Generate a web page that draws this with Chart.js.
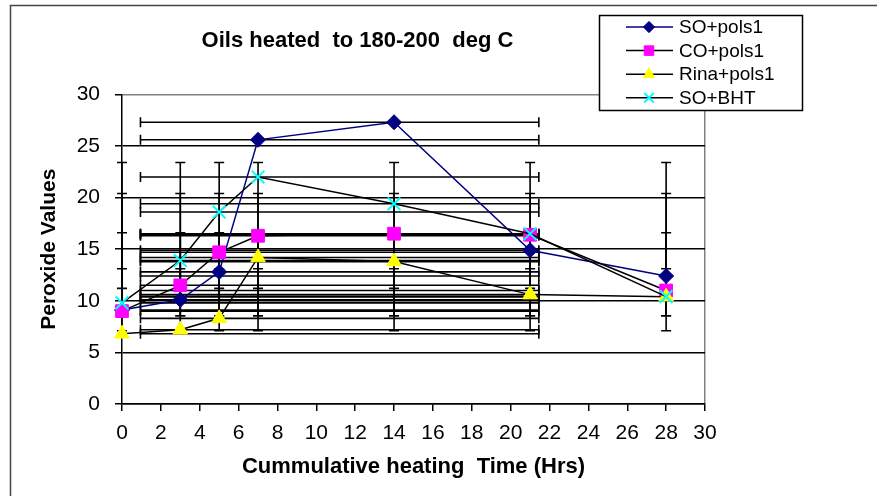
<!DOCTYPE html>
<html>
<head>
<meta charset="utf-8">
<script src="https://cdn.jsdelivr.net/npm/chart.js@4.4.1/dist/chart.umd.min.js"></script>
<style>
  html, body { margin: 0; padding: 0; background: #fff; }
  #wrap { position: relative; width: 877px; height: 496px; }
</style>
</head>
<body>
<div id="wrap"><canvas id="chart"></canvas></div>
<script>
// heating time (hrs) and peroxide values
const hours = [0, 3, 5, 7, 14, 21, 28];
const soPols1 = [9.1, 10.1, 12.8, 25.6, 27.3, 14.9, 12.4];
const coPols1 = [9.0, 11.5, 14.7, 16.3, 16.5, 16.4, 11.0];
const rinaPols1 = [6.8, 7.2, 8.3, 14.2, 13.8, 10.6, 10.4];
const soBht = [9.8, 13.9, 18.6, 22.0, 19.4, 16.5, 10.4];

// error bar ends (low, high) - the same for every point of a series
const soPols1YErr = [8.55, 16.6];
const coPols1YErr = [11.2, 20.4];
const rinaPols1YErr = [7.1, 13.1];
const soBhtYErr = [8.55, 23.4];
const xErr = [0.95, 21.45];

const seriesNames = ["SO+pols1", "CO+pols1", "Rina+pols1", "SO+BHT"];
const xTickStep = 2;
const yTickStep = 5;

const FONT = "'Liberation Sans', Arial, sans-serif";

function pts(ys) {
  return hours.map((h, i) => ({ x: h, y: ys[i] }));
}

// excel style error bars, both directions
const errorBars = {
  id: "errorBars",
  beforeDatasetsDraw(chart) {
    const { ctx, scales: { x, y } } = chart;
    const cap = 5;
    ctx.save();
    ctx.strokeStyle = "#000";
    ctx.lineWidth = 1.6;
    chart.data.datasets.forEach(ds => {
      ds.data.forEach(p => {
        // vertical
        const px = x.getPixelForValue(p.x);
        const y1 = y.getPixelForValue(ds.yErr[0]);
        const y2 = y.getPixelForValue(ds.yErr[1]);
        ctx.beginPath();
        ctx.moveTo(px, y1); ctx.lineTo(px, y2);
        ctx.moveTo(px - cap, y1); ctx.lineTo(px + cap, y1);
        ctx.moveTo(px - cap, y2); ctx.lineTo(px + cap, y2);
        ctx.stroke();
        // horizontal
        const py = y.getPixelForValue(p.y);
        const x1 = x.getPixelForValue(xErr[0]);
        const x2 = x.getPixelForValue(xErr[1]);
        ctx.beginPath();
        ctx.moveTo(x1, py); ctx.lineTo(x2, py);
        ctx.moveTo(x1, py - cap); ctx.lineTo(x1, py + cap);
        ctx.moveTo(x2, py - cap); ctx.lineTo(x2, py + cap);
        ctx.stroke();
      });
    });
    ctx.restore();
  }
};

// outer frame + boxed legend
const frameAndLegend = {
  id: "frameAndLegend",
  beforeDraw(chart) {
    const ctx = chart.ctx;
    ctx.save();
    ctx.fillStyle = "#fff";
    ctx.fillRect(0, 0, chart.width, chart.height);
    ctx.strokeStyle = "#444";
    ctx.lineWidth = 1.5;
    ctx.strokeRect(10.5, 5.5, chart.width + 20, chart.height + 20);
    ctx.restore();
  },
  afterDraw(chart) {
    const ctx = chart.ctx;
    const bx = 599.5, by = 15.5, bw = 203, bh = 95;
    ctx.save();
    ctx.fillStyle = "#fff";
    ctx.fillRect(bx, by, bw, bh);
    ctx.strokeStyle = "#000";
    ctx.lineWidth = 1.5;
    ctx.strokeRect(bx, by, bw, bh);
    ctx.font = "19px " + FONT;
    ctx.textBaseline = "middle";
    chart.data.datasets.forEach((ds, i) => {
      const ry = 27 + i * 23.6;
      ctx.strokeStyle = ds.borderColor;
      ctx.lineWidth = 1.5;
      ctx.beginPath();
      ctx.moveTo(626, ry); ctx.lineTo(673, ry);
      ctx.stroke();
      ctx.fillStyle = ds.pointBackgroundColor;
      ctx.strokeStyle = ds.pointBorderColor;
      ctx.lineWidth = ds.pointBorderWidth;
      Chart.helpers.drawPoint(ctx, {
        pointStyle: ds.pointStyle,
        radius: ds.pointRadius * 0.75,
        rotation: 0,
        borderWidth: ds.pointBorderWidth
      }, 649, ry);
      ctx.fillStyle = "#000";
      ctx.fillText(ds.label, 679, ry + 1);
    });
    ctx.restore();
  }
};

const series = [
  { label: seriesNames[0], data: pts(soPols1), yErr: soPols1YErr, line: "#000080", fill: "#000080", style: "rectRot", r: 7.5, order: 4 },
  { label: seriesNames[1], data: pts(coPols1), yErr: coPols1YErr, line: "#000000", fill: "#FF00FF", style: "rect", r: 9, order: 3 },
  { label: seriesNames[2], data: pts(rinaPols1), yErr: rinaPols1YErr, line: "#000000", fill: "#FFFF00", style: "triangle", r: 8.5, order: 2 },
  { label: seriesNames[3], data: pts(soBht), yErr: soBhtYErr, line: "#000000", fill: "#00FFFF", style: "crossRot", r: 9, order: 1 }
];

new Chart(document.getElementById("chart"), {
  type: "line",
  data: {
    datasets: series.map(s => ({
      label: s.label,
      data: s.data,
      yErr: s.yErr,
      order: s.order,
      clip: false,
      borderColor: s.line,
      borderWidth: 1.5,
      pointStyle: s.style,
      pointRadius: s.r,
      pointBackgroundColor: s.fill,
      pointBorderColor: s.fill,
      pointBorderWidth: s.style === "crossRot" ? 2 : 1,
      tension: 0,
      fill: false
    }))
  },
  options: {
    responsive: true,
    maintainAspectRatio: false,
    animation: false,
    events: [],
    layout: { padding: { left: 10, top: 0, right: 172, bottom: 0 } },
    plugins: {
      legend: { display: false },
      tooltip: { enabled: false },
      title: {
        display: true,
        text: "Oils heated  to 180-200  deg C",
        color: "#000",
        font: { family: FONT, size: 22, weight: "bold" },
        padding: { top: 28, bottom: 40 }
      }
    },
    scales: {
      x: {
        type: "linear",
        min: 0,
        max: 30,
        ticks: { stepSize: xTickStep, color: "#000", font: { family: FONT, size: 21 }, padding: 10, maxRotation: 0, autoSkip: false },
        grid: {
          color: c => (c.tick && c.tick.value === 30 ? "#808080" : "rgba(0,0,0,0)"),
          tickColor: "#000",
          tickLength: 7,
          lineWidth: 1.5
        },
        border: { color: "#000", width: 1.5 },
        title: {
          display: true,
          text: "Cummulative heating  Time (Hrs)",
          color: "#000",
          font: { family: FONT, size: 22, weight: "bold" },
          padding: { top: 0, bottom: 16 }
        },
        afterFit: s => { s.height = 92; }
      },
      y: {
        min: 0,
        max: 30,
        ticks: { stepSize: yTickStep, color: "#000", font: { family: FONT, size: 21 }, padding: 15 },
        grid: {
          color: c => (c.tick && c.tick.value === 30 ? "#808080" : "#000"),
          tickColor: "#000",
          tickLength: 7,
          lineWidth: 1.5
        },
        border: { color: "#000", width: 1.5 },
        title: {
          display: true,
          text: "Peroxide Values",
          color: "#000",
          font: { family: FONT, size: 21, weight: "bold" },
          padding: { top: 27, bottom: 0 }
        },
        afterFit: s => { s.width = 112; }
      }
    }
  },
  plugins: [frameAndLegend, errorBars]
});
</script>
</body>
</html>
